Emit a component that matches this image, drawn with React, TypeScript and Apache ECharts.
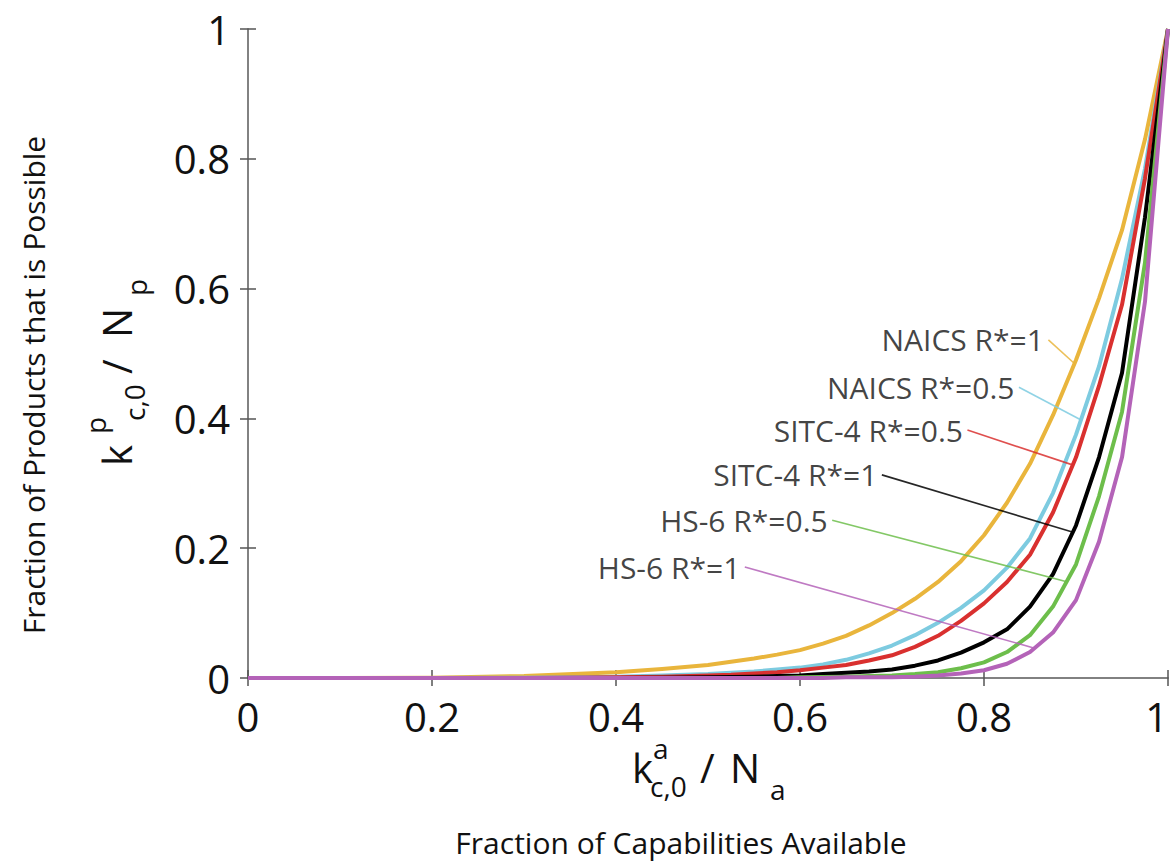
import React, { useEffect, useRef } from 'react';
import * as echarts from 'echarts';

// x grid shared by every curve
const xs = [0, 0.1, 0.2, 0.3, 0.4, 0.45, 0.5, 0.525, 0.55, 0.575, 0.6, 0.625, 0.65, 0.675, 0.7, 0.725, 0.75, 0.775, 0.8, 0.825, 0.85, 0.875, 0.9, 0.925, 0.95, 0.975, 1];
const naicsR1 = [0, 0, 0.0005, 0.003, 0.009, 0.014, 0.02, 0.025, 0.03, 0.036, 0.043, 0.053, 0.065, 0.081, 0.1, 0.122, 0.148, 0.18, 0.22, 0.27, 0.33, 0.405, 0.49, 0.585, 0.69, 0.83, 1];
const naicsR05 = [0, 0, 0, 0.0005, 0.002, 0.004, 0.006, 0.008, 0.01, 0.013, 0.016, 0.021, 0.028, 0.038, 0.05, 0.066, 0.085, 0.108, 0.135, 0.17, 0.215, 0.285, 0.375, 0.48, 0.615, 0.785, 1];
const sitcR05 = [0, 0, 0, 0, 0.001, 0.002, 0.004, 0.005, 0.007, 0.009, 0.012, 0.016, 0.02, 0.027, 0.035, 0.048, 0.065, 0.088, 0.115, 0.148, 0.19, 0.255, 0.34, 0.45, 0.575, 0.77, 1];
const sitcR1 = [0, 0, 0, 0, 0, 0.0005, 0.001, 0.0015, 0.002, 0.003, 0.004, 0.006, 0.008, 0.01, 0.013, 0.019, 0.027, 0.039, 0.055, 0.075, 0.11, 0.16, 0.235, 0.34, 0.47, 0.71, 1];
const hsR05 = [0, 0, 0, 0, 0, 0, 0, 0, 0, 0, 0.001, 0.0015, 0.002, 0.003, 0.004, 0.006, 0.009, 0.015, 0.024, 0.04, 0.066, 0.11, 0.175, 0.28, 0.41, 0.64, 1];
const hsR1 = [0, 0, 0, 0, 0, 0, 0, 0, 0, 0, 0, 0, 0.001, 0.001, 0.001, 0.002, 0.004, 0.007, 0.012, 0.022, 0.04, 0.07, 0.12, 0.21, 0.34, 0.58, 1];

const seriesNames = ['NAICS R*=1', 'NAICS R*=0.5', 'SITC-4 R*=0.5', 'SITC-4 R*=1', 'HS-6 R*=0.5', 'HS-6 R*=1'];
const seriesValues = [naicsR1, naicsR05, sitcR05, sitcR1, hsR05, hsR1];
const seriesColors = ['#E9B53C', '#7DCBE0', '#D9302F', '#000000', '#6DBE4B', '#B463B8'];

// annotation leader lines: start (next to label) and end (on curve), data coords
const labelStart = [[0.870, 0.521], [0.838, 0.448], [0.782, 0.382], [0.689, 0.313], [0.635, 0.243], [0.540, 0.171]];
const labelEnd = [[0.898, 0.485], [0.905, 0.398], [0.897, 0.328], [0.896, 0.225], [0.891, 0.148], [0.855, 0.046]];

const xTicks = { min: 0, max: 1, interval: 0.2 };

const FONT = '"Open Sans", "DejaVu Sans", sans-serif';

export default function App() {
  const ref = useRef<HTMLDivElement>(null);

  useEffect(() => {
    document.body.style.margin = '0';
    document.body.style.overflow = 'hidden';
    document.documentElement.style.overflow = 'hidden';
    const chart = echarts.init(ref.current!, null, { renderer: 'svg', width: 1170, height: 864 });

    const curveSeries = seriesValues.map((vals, i) => ({
      type: 'line',
      name: seriesNames[i],
      data: xs.map((x, j) => [x, vals[j]]),
      showSymbol: false,
      symbol: 'none',
      smooth: false,
      lineStyle: { color: seriesColors[i], width: 4, join: 'round' },
      itemStyle: { color: seriesColors[i] },
      silent: true,
      z: 3,
    }));

    const leaderSeries = labelStart.map((s, i) => ({
      type: 'line',
      data: [s, labelEnd[i]],
      showSymbol: false,
      symbol: 'none',
      lineStyle: { color: seriesColors[i], width: 1.6, opacity: 0.85 },
      silent: true,
      z: 4,
    }));

    const labelSeries = {
      type: 'scatter',
      symbolSize: 1,
      itemStyle: { color: 'rgba(0,0,0,0)' },
      data: labelStart.map((s, i) => ({ value: s, name: seriesNames[i] })),
      label: {
        show: true,
        position: 'left',
        distance: 4,
        formatter: '{b}',
        fontSize: 30,
        fontFamily: FONT,
        color: '#111',
      },
      silent: true,
      z: 5,
    };

    const axisLineStyle = { color: '#7a7a7a', width: 1.5 };

    const mainFont = `40px ${FONT}`;
    const smallFont = `28px ${FONT}`;
    const txt = (text: string, x: number, y: number, font: string, rot = 0, align = 'left') => ({
      type: 'text',
      x,
      y,
      rotation: rot,
      style: {
        text,
        font,
        fill: '#111',
        align,
        textAlign: align,
        verticalAlign: 'middle',
        textVerticalAlign: 'middle',
      },
      silent: true,
    });
    const R = Math.PI / 2;

    chart.setOption({
      animation: false,
      backgroundColor: '#ffffff',
      grid: { left: 248, right: 2, top: 29, bottom: 186, containLabel: false, outerBoundsMode: 'none' },
      xAxis: [
        {
          type: 'value',
          ...xTicks,
          axisLine: { show: true, lineStyle: axisLineStyle },
          axisTick: { show: true, inside: true, length: 8, lineStyle: { color: '#555', width: 1.5 } },
          axisLabel: { fontSize: 40, fontFamily: FONT, color: '#111', margin: 18, alignMaxLabel: 'right' },
          splitLine: { show: false },
        },
        {
          type: 'value',
          position: 'top',
          ...xTicks,
          axisLine: { show: true, lineStyle: axisLineStyle },
          axisTick: { show: true, inside: true, length: 8, lineStyle: { color: '#555', width: 1.5 } },
          axisLabel: { show: false },
          splitLine: { show: false },
        },
      ],
      yAxis: [
        {
          type: 'value',
          min: 0,
          max: 1,
          interval: 0.2,
          axisLine: { show: true, lineStyle: axisLineStyle },
          axisTick: { show: true, inside: true, length: 8, lineStyle: { color: '#555', width: 1.5 } },
          axisLabel: { fontSize: 40, fontFamily: FONT, color: '#111', margin: 18 },
          splitLine: { show: false },
        },
        {
          type: 'value',
          position: 'right',
          min: 0,
          max: 1,
          interval: 0.2,
          axisLine: { show: true, lineStyle: axisLineStyle },
          axisTick: { show: true, inside: true, length: 8, lineStyle: { color: '#555', width: 1.5 } },
          axisLabel: { show: false },
          splitLine: { show: false },
        },
      ],
      series: [...curveSeries, ...leaderSeries, labelSeries],
      graphic: [
        // x axis math label  k^a_{c,0} / N_a
        txt('k', 632, 767, mainFont),
        txt('a', 653, 748, smallFont),
        txt('c,0', 650, 786, smallFont),
        txt('/', 700, 767, mainFont),
        txt('N', 730, 767, mainFont),
        txt('a', 770, 789, smallFont),
        txt('Fraction of Capabilities Available', 681, 842, `30px ${FONT}`, 0, 'center'),
        // y axis math label  k^p_{c,0} / N_p (rotated)
        txt('k', 116.5, 466, mainFont, R),
        txt('p', 95, 434, smallFont, R),
        txt('c,0', 134, 421, smallFont, R),
        txt('/', 116.5, 374, mainFont, R),
        txt('N', 116.5, 338, mainFont, R),
        txt('p', 136, 296, smallFont, R),
        txt('Fraction of Products that is Possible', 33, 385, `30px ${FONT}`, R, 'center'),
      ],
    });

    return () => chart.dispose();
  }, []);

  return <div ref={ref} style={{ width: 1170, height: 864, overflow: 'hidden' }} />;
}
